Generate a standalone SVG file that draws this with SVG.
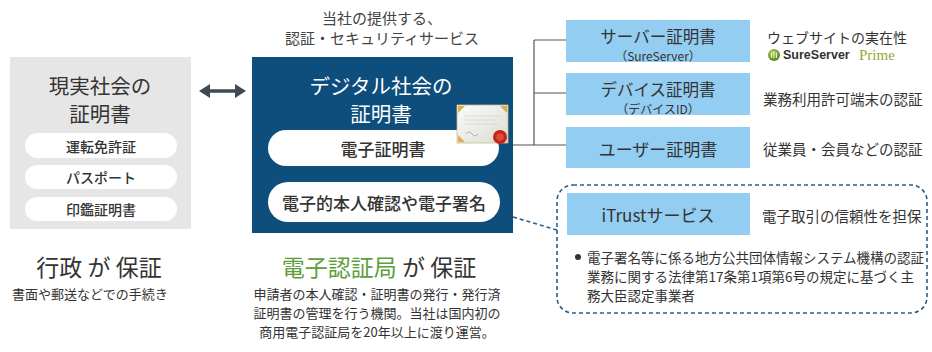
<svg xmlns="http://www.w3.org/2000/svg" width="932" height="352" viewBox="0 0 932 352">
  <defs>
    <style>
      text { font-family: "Noto Sans CJK JP", "Noto Sans", sans-serif; dominant-baseline: central; }
      .c { text-anchor: middle; }
      .dark { fill: #333333; }
      .sub { fill: #444444; }
      .white { fill: #ffffff; }
      .pill { fill: #ffffff; }
      .svc { fill: #93cdf1; }
      .line { stroke: #555555; stroke-width: 1.2; fill: none; }
      .dash { stroke: #2c5d8c; stroke-width: 1.6; fill: none; stroke-dasharray: 4 3; }
    </style>
    <linearGradient id="certPaper" x1="0" y1="0" x2="1" y2="1">
      <stop offset="0" stop-color="#fbfbf8"/>
      <stop offset="1" stop-color="#dcdcd6"/>
    </linearGradient>
    <radialGradient id="logoBall" cx="0.4" cy="0.35" r="0.7">
      <stop offset="0" stop-color="#b9d86a"/>
      <stop offset="1" stop-color="#4f7a1c"/>
    </radialGradient>
  </defs>

  <!-- heading above the service column -->
  <text class="c sub" x="382" y="17" font-size="15">当社の提供する、</text>
  <text class="c sub" x="382" y="37" font-size="15">認証・セキュリティサービス</text>

  <!-- connectors -->
  <g id="connectors">
    <!-- double-headed arrow between the two worlds -->
    <path d="M208 91 H237" stroke="#3f4a54" stroke-width="3.5" fill="none"/>
    <path d="M199 91 L210 84 L210 98 Z" fill="#3f4a54"/>
    <path d="M246 91 L235 84 L235 98 Z" fill="#3f4a54"/>
    <!-- tree to the certificate types -->
    <path class="line" d="M513 145 H534 M534 40 V145 M534 40 H566 M534 93 H566 M534 145 H566"/>
    <!-- dashed link to the iTrust panel -->
    <path class="dash" d="M513 217 L557 230"/>
  </g>

  <!-- real-world certificates -->
  <g id="real-world">
    <rect x="10" y="57" width="181" height="172" fill="#e6e6e6"/>
    <text class="c dark" x="100" y="85" font-size="20.5">現実社会の</text>
    <text class="c dark" x="100" y="113" font-size="20.5">証明書</text>
    <rect class="pill" x="25" y="133" width="152" height="25" rx="12.5"/>
    <text class="c dark" x="101" y="145.5" font-size="14" font-weight="500">運転免許証</text>
    <rect class="pill" x="25" y="165" width="152" height="24" rx="12"/>
    <text class="c dark" x="101" y="177" font-size="14" font-weight="500">パスポート</text>
    <rect class="pill" x="25" y="197" width="152" height="24" rx="12"/>
    <text class="c dark" x="101" y="209" font-size="14" font-weight="500">印鑑証明書</text>
  </g>

  <!-- digital certificates -->
  <g id="digital">
    <rect x="252" y="57" width="261" height="176" fill="#0e4e7c"/>
    <text class="c white" x="381" y="85" font-size="20.5">デジタル社会の</text>
    <text class="c white" x="381" y="113" font-size="20.5">証明書</text>
    <rect class="pill" x="268" y="130" width="231" height="36" rx="18"/>
    <text class="c dark" x="383" y="148" font-size="17" font-weight="500">電子証明書</text>
    <rect class="pill" x="268" y="182" width="232" height="40" rx="20"/>
    <text class="c dark" x="384" y="202" font-size="17" font-weight="500">電子的本人確認や電子署名</text>
    <!-- small certificate icon -->
    <g id="cert-icon">
      <rect x="457" y="105" width="51" height="38" fill="url(#certPaper)" stroke="#c9b98a" stroke-width="0.8"/>
      <path d="M458 106 l7 0 l-7 7 Z M507 106 l-7 0 l7 7 Z M458 142 l7 0 l-7 -7 Z" fill="#d7b04a"/>
      <path d="M464 116 H500 M464 120 H496 M464 124 H498" stroke="#d4d4d0" stroke-width="0.8"/>
      <path d="M466 134 q3 -4 6 0 t6 0" stroke="#9a9a9a" stroke-width="0.7" fill="none"/>
      <circle cx="500" cy="137" r="7" fill="#c4231a"/>
      <circle cx="500" cy="137" r="3.8" fill="#e04a35"/>
    </g>
  </g>

  <!-- certificate types -->
  <g id="server-cert">
    <rect class="svc" x="566" y="20" width="184" height="42"/>
    <text class="c dark" x="658" y="36" font-size="16.5">サーバー証明書</text>
    <text class="c dark" x="658" y="55.5" font-size="12">（SureServer）</text>
    <text class="dark" x="767" y="37" font-size="14">ウェブサイトの実在性</text>
    <circle cx="774" cy="55" r="6" fill="url(#logoBall)"/>
    <path d="M771.5 58 V52.5 M774 58 V51.5 M776.5 58 V52.5" stroke="#e9f3c8" stroke-width="1"/>
    <text x="783" y="55" font-size="12.5" font-weight="700" fill="#333333" style="font-family: 'Liberation Sans', Arial, sans-serif">SureServer</text>
    <text x="859" y="55" font-size="15" fill="#9ba337" style="font-family: 'Liberation Serif', 'Times New Roman', serif">Prime</text>
  </g>

  <g id="device-cert">
    <rect class="svc" x="566" y="73" width="184" height="42"/>
    <text class="c dark" x="658" y="89" font-size="16.5">デバイス証明書</text>
    <text class="c dark" x="658" y="108.5" font-size="12">（デバイスID）</text>
    <text class="dark" x="763" y="98" font-size="14.5">業務利用許可端末の認証</text>
  </g>

  <g id="user-cert">
    <rect class="svc" x="566" y="127" width="184" height="41"/>
    <text class="c dark" x="658" y="148" font-size="17">ユーザー証明書</text>
    <text class="dark" x="763" y="148" font-size="14.5">従業員・会員などの認証</text>
  </g>

  <!-- iTrust panel -->
  <g id="itrust">
    <rect class="dash" x="557" y="185" width="370" height="128" rx="16"/>
    <rect class="svc" x="567" y="193" width="183" height="42"/>
    <text class="c dark" x="658" y="214" font-size="17">iTrustサービス</text>
    <text class="dark" x="762" y="215" font-size="14.5">電子取引の信頼性を担保</text>
    <circle cx="578" cy="257" r="3" fill="#333333"/>
    <text class="dark" x="587" y="257" font-size="13.5">電子署名等に係る地方公共団体情報システム機構の認証</text>
    <text class="dark" x="587" y="276" font-size="13.5">業務に関する法律第17条第1項第6号の規定に基づく主</text>
    <text class="dark" x="587" y="295" font-size="13.5">務大臣認定事業者</text>
  </g>

  <!-- captions under each column -->
  <g id="caption-left">
    <text class="c dark" x="99" y="266" font-size="23">行政 が 保証</text>
    <text class="dark" x="12" y="293" font-size="13">書面や郵送などでの手続き</text>
  </g>
  <g id="caption-right">
    <text class="c dark" x="379" y="266" font-size="23"><tspan fill="#5c9e3b">電子認証局</tspan> が 保証</text>
    <text class="c dark" x="377" y="293" font-size="13">申請者の本人確認・証明書の発行・発行済</text>
    <text class="c dark" x="377" y="312" font-size="13">証明書の管理を行う機関。当社は国内初の</text>
    <text class="c dark" x="377" y="331" font-size="13">商用電子認証局を20年以上に渡り運営。</text>
  </g>
</svg>
